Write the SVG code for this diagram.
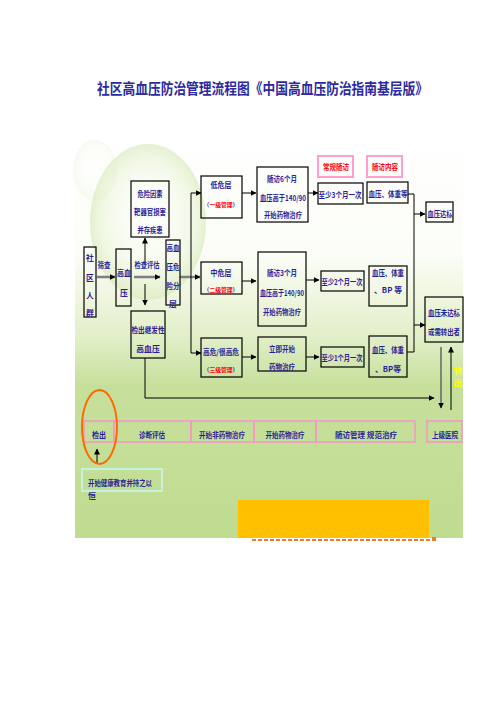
<svg xmlns="http://www.w3.org/2000/svg" width="496" height="702" viewBox="0 0 496 702">
<defs>
<linearGradient id="bg" x1="0" y1="0" x2="0" y2="1">
<stop offset="0" stop-color="#ffffff"/>
<stop offset="0.3" stop-color="#fbfdf6"/>
<stop offset="0.5" stop-color="#e2efc9"/>
<stop offset="0.62" stop-color="#c6e09c"/>
<stop offset="1" stop-color="#c0dc90"/>
</linearGradient>
<radialGradient id="bub" cx="0.5" cy="0.5" r="0.5">
<stop offset="0" stop-color="#ffffff" stop-opacity="0"/>
<stop offset="0.75" stop-color="#e6f2d2" stop-opacity="0.45"/>
<stop offset="1" stop-color="#d8ebbd" stop-opacity="0.7"/>
</radialGradient>
<marker id="ah" markerWidth="6" markerHeight="6" refX="5.5" refY="3" orient="auto" markerUnits="userSpaceOnUse"><path d="M0,0 L6,3 L0,6 z" fill="#000"/></marker>
</defs>
<style>
.t{font-family:"Noto Sans CJK SC","Noto Sans CJK JP",sans-serif;font-weight:bold;font-size:7.8px;fill:#2b1d99;text-anchor:middle;dominant-baseline:central}
.s{font-size:5.8px}
.r{fill:#ff0000}
.box{fill:none;stroke:#000;stroke-width:1.2}
.pk{fill:none;stroke:#ff9ecf;stroke-width:2}
.bar{fill:none;stroke:#f29ac4;stroke-width:1.6}
.ln{fill:none;stroke:#000;stroke-width:1}
.gl{fill:none;stroke:#7f7f7f;stroke-width:2.5}
</style>
<rect width="496" height="702" fill="#ffffff"/>
<g id="background">
<rect x="75" y="135" width="388" height="403" fill="url(#bg)"/>
<ellipse cx="148" cy="222" rx="58" ry="78" fill="url(#bub)"/>
<ellipse cx="95" cy="170" rx="22" ry="30" fill="url(#bub)" opacity="0.3"/>
</g>
<g id="title">
<text class="t" x="97" y="87" style="font-size:15px;text-anchor:start;fill:#2e2a9e" textLength="331" lengthAdjust="spacingAndGlyphs">社区高血压防治管理流程图《中国高血压防治指南基层版》</text>
</g>
<g id="connectors">
<line class="gl" x1="97" y1="277" x2="115" y2="277" marker-end="url(#ah)"/>
<line class="gl" x1="134" y1="277" x2="160" y2="277" marker-end="url(#ah)"/>
<line x1="145" y1="265" x2="145" y2="238" stroke="#555" stroke-width="1.5" marker-end="url(#ah)"/>
<line class="ln" x1="145" y1="284" x2="145" y2="305" marker-end="url(#ah)"/>
<line class="gl" x1="180" y1="277" x2="200" y2="277" stroke-width="2" marker-end="url(#ah)"/>
<line class="ln" x1="191" y1="193" x2="191" y2="353"/>
<line class="ln" x1="191" y1="193" x2="201" y2="193" marker-end="url(#ah)"/>
<line class="ln" x1="191" y1="353" x2="201" y2="353" marker-end="url(#ah)"/>
<line class="ln" x1="242" y1="193" x2="256" y2="193" marker-end="url(#ah)"/>
<line class="ln" x1="308" y1="193" x2="318" y2="193" marker-end="url(#ah)"/>
<polyline class="ln" points="408,194 414,194 414,352 407,352"/>
<line class="ln" x1="414" y1="214" x2="425" y2="214" marker-end="url(#ah)"/>
<line class="ln" x1="414" y1="325" x2="425" y2="325" marker-end="url(#ah)"/>
<line class="ln" x1="242" y1="281" x2="256" y2="281" stroke="#666" stroke-width="1.5" marker-end="url(#ah)"/>
<line class="ln" x1="306" y1="280" x2="319" y2="280" marker-end="url(#ah)"/>
<line class="ln" x1="242" y1="357" x2="256" y2="357" marker-end="url(#ah)"/>
<line class="ln" x1="306" y1="357" x2="319" y2="357" marker-end="url(#ah)"/>
<polyline class="ln" points="145,358 145,398 434,398" marker-end="url(#ah)"/>
<line x1="441" y1="347" x2="441" y2="408" stroke="#666" stroke-width="1.5" marker-end="url(#ah)"/>
<line class="ln" x1="451" y1="410" x2="451" y2="347" marker-end="url(#ah)"/>
<line class="ln" x1="97" y1="463" x2="97" y2="449" marker-end="url(#ah)"/>
</g>
<g id="n-community">
<rect class="box" x="84" y="247" width="12" height="70"/>
<text class="t" x="90" y="257">社</text>
<text class="t" x="90" y="277">区</text>
<text class="t" x="90" y="295">人</text>
<text class="t" x="90" y="312">群</text>
<text class="t" x="104" y="264" textLength="13" lengthAdjust="spacingAndGlyphs">筛查</text>
</g>
<g id="n-htn">
<rect class="box" x="116" y="249" width="15" height="57"/>
<text class="t" x="124" y="272" textLength="14" lengthAdjust="spacingAndGlyphs">高血</text>
<text class="t" x="124" y="292">压</text>
<text class="t" x="147" y="264" textLength="25" lengthAdjust="spacingAndGlyphs">检查评估</text>
</g>
<g id="n-risk-factors">
<rect class="box" x="131" y="181" width="38" height="56"/>
<text class="t" x="150" y="193" textLength="25" lengthAdjust="spacingAndGlyphs">危险因素</text>
<text class="t" x="150" y="211" textLength="32" lengthAdjust="spacingAndGlyphs">靶器官损害</text>
<text class="t" x="150" y="229" textLength="25" lengthAdjust="spacingAndGlyphs">并存疾患</text>
</g>
<g id="n-secondary">
<rect class="box" x="131" y="311" width="34" height="47"/>
<text class="t" x="148" y="329" textLength="33" lengthAdjust="spacingAndGlyphs">检出继发性</text>
<text class="t" x="148" y="348">高血压</text>
</g>
<g id="n-strat">
<rect class="box" x="166" y="240" width="14" height="65"/>
<text class="t" x="173" y="247" textLength="13" lengthAdjust="spacingAndGlyphs">高血</text>
<text class="t" x="173" y="266" textLength="13" lengthAdjust="spacingAndGlyphs">压危</text>
<text class="t" x="173" y="285" textLength="13" lengthAdjust="spacingAndGlyphs">险分</text>
<text class="t" x="173" y="303">层</text>
</g>
<g id="n-low">
<rect class="box" x="201" y="176" width="41" height="42"/>
<text class="t" x="221" y="184" textLength="21" lengthAdjust="spacingAndGlyphs">低危层</text>
<text class="t s" x="221" y="204">（<tspan class="r">一级管理</tspan>）</text>
</g>
<g id="n-low-follow">
<rect class="box" x="257" y="167" width="51" height="55"/>
<text class="t" x="282" y="178" textLength="30" lengthAdjust="spacingAndGlyphs">随访6个月</text>
<text class="t" x="283" y="197" textLength="46" lengthAdjust="spacingAndGlyphs">血压高于140/90</text>
<text class="t" x="283" y="214" textLength="38" lengthAdjust="spacingAndGlyphs">开始药物治疗</text>
</g>
<g id="n-routine">
<rect class="pk" x="318" y="156" width="35" height="21"/>
<text class="t r" x="336" y="166" textLength="26" lengthAdjust="spacingAndGlyphs">常规随访</text>
</g>
<g id="n-content">
<rect class="pk" x="367" y="156" width="35" height="21"/>
<text class="t r" x="385" y="166" textLength="26" lengthAdjust="spacingAndGlyphs">随访内容</text>
</g>
<g id="n-low-freq">
<rect class="box" x="318" y="183" width="45" height="21"/>
<text class="t" x="340" y="194" textLength="43" lengthAdjust="spacingAndGlyphs">至少3个月一次</text>
</g>
<g id="n-low-content">
<rect class="box" x="367" y="182" width="41" height="21"/>
<text class="t" x="388" y="193" textLength="39" lengthAdjust="spacingAndGlyphs">血压、体重等</text>
</g>
<g id="n-controlled">
<rect class="box" x="426" y="202" width="27" height="20"/>
<text class="t" x="440" y="213" textLength="25" lengthAdjust="spacingAndGlyphs">血压达标</text>
</g>
<g id="n-mid">
<rect class="box" x="201" y="262" width="41" height="32"/>
<text class="t" x="221" y="272" textLength="21" lengthAdjust="spacingAndGlyphs">中危层</text>
<text class="t s" x="221" y="289">（<tspan class="r">二级管理</tspan>）</text>
</g>
<g id="n-mid-follow">
<rect class="box" x="258" y="252" width="48" height="74"/>
<text class="t" x="282" y="272" textLength="30" lengthAdjust="spacingAndGlyphs">随访3个月</text>
<text class="t" x="282" y="292" textLength="44" lengthAdjust="spacingAndGlyphs">血压高于140/90</text>
<text class="t" x="282" y="311" textLength="38" lengthAdjust="spacingAndGlyphs">开始药物治疗</text>
</g>
<g id="n-mid-freq">
<rect class="box" x="321" y="271" width="43" height="20"/>
<text class="t" x="342" y="281" textLength="41" lengthAdjust="spacingAndGlyphs">至少2个月一次</text>
</g>
<g id="n-mid-content">
<rect class="box" x="369" y="266" width="38" height="40"/>
<text class="t" x="388" y="272" textLength="32" lengthAdjust="spacingAndGlyphs">血压、体重</text>
<text class="t" x="388" y="289">、BP 等</text>
</g>
<g id="n-uncontrolled">
<rect class="box" x="425" y="297" width="38" height="45"/>
<text class="t" x="444" y="312" textLength="32" lengthAdjust="spacingAndGlyphs">血压未达标</text>
<text class="t" x="444" y="331" textLength="32" lengthAdjust="spacingAndGlyphs">或需转出者</text>
</g>
<g id="n-high">
<rect class="box" x="201" y="338" width="41" height="39"/>
<text class="t" x="221" y="351" textLength="36" lengthAdjust="spacingAndGlyphs">高危/很高危</text>
<text class="t s" x="221" y="369">（<tspan class="r">三级管理</tspan>）</text>
</g>
<g id="n-high-treat">
<rect class="box" x="258" y="337" width="48" height="34"/>
<text class="t" x="282" y="348" textLength="26" lengthAdjust="spacingAndGlyphs">立即开始</text>
<text class="t" x="282" y="366" textLength="26" lengthAdjust="spacingAndGlyphs">药物治疗</text>
</g>
<g id="n-high-freq">
<rect class="box" x="321" y="347" width="43" height="20"/>
<text class="t" x="342" y="357" textLength="41" lengthAdjust="spacingAndGlyphs">至少1个月一次</text>
</g>
<g id="n-high-content">
<rect class="box" x="369" y="336" width="38" height="41"/>
<text class="t" x="388" y="349" textLength="32" lengthAdjust="spacingAndGlyphs">血压、体重</text>
<text class="t" x="388" y="368">、BP等</text>
</g>
<g id="n-transfer">
<text class="t" x="458" y="370" style="fill:#ffff00;font-size:8px">转</text>
<text class="t" x="458" y="382" style="fill:#ffff00;font-size:8px">出</text>
</g>
<g id="n-bar">
<rect class="bar" x="84" y="421" width="30" height="21"/>
<text class="t" x="99" y="434" textLength="14" lengthAdjust="spacingAndGlyphs">检出</text>
<rect class="bar" x="114" y="421" width="77" height="21"/>
<text class="t" x="152" y="434" textLength="26" lengthAdjust="spacingAndGlyphs">诊断评估</text>
<rect class="bar" x="191" y="421" width="63" height="21"/>
<text class="t" x="222" y="434" textLength="46" lengthAdjust="spacingAndGlyphs">开始非药物治疗</text>
<rect class="bar" x="254" y="421" width="62" height="21"/>
<text class="t" x="285" y="434" textLength="39" lengthAdjust="spacingAndGlyphs">开始药物治疗</text>
<rect class="bar" x="316" y="421" width="99" height="21"/>
<text class="t" x="366" y="434" textLength="62" lengthAdjust="spacingAndGlyphs">随访管理   规范治疗</text>
<rect class="bar" x="427" y="421" width="35" height="21"/>
<text class="t" x="445" y="434" textLength="26" lengthAdjust="spacingAndGlyphs">上级医院</text>
</g>
<g id="n-circle">
<ellipse cx="99.5" cy="427" rx="17.5" ry="37" fill="none" stroke="#ff6a00" stroke-width="2"/>
</g>
<g id="n-education">
<rect x="82" y="469" width="80" height="22" fill="none" stroke="#c8f7f7" stroke-width="1.5"/>
<text class="t" x="88" y="482" style="text-anchor:start" textLength="64" lengthAdjust="spacingAndGlyphs">开始健康教育并持之以</text>
<text class="t" x="88" y="495" style="text-anchor:start">恒</text>
</g>
<g id="n-orange">
<rect x="238" y="500" width="191" height="38" fill="#ffc000"/>
<line x1="252" y1="540" x2="430" y2="540" stroke="#f07a28" stroke-width="2" stroke-dasharray="4,2"/>
<rect x="432" y="537" width="4" height="4" fill="#f07a28"/>
</g>
</svg>
